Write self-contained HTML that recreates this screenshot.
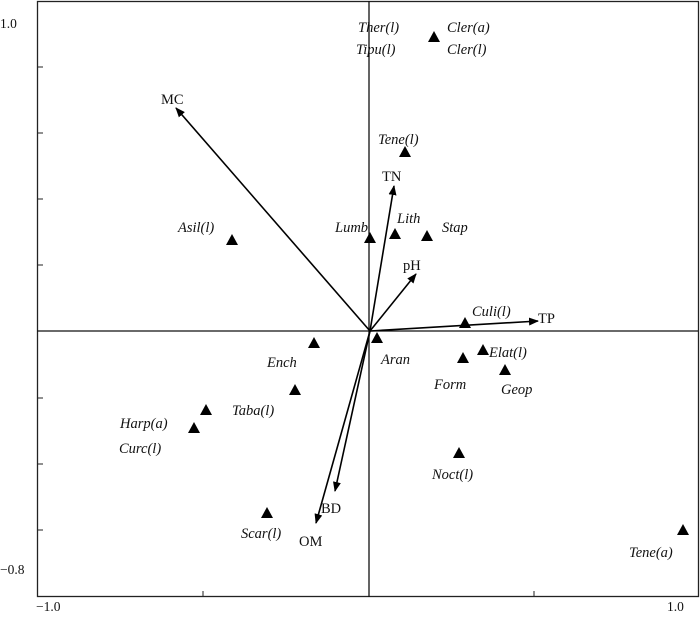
<!DOCTYPE html>
<html><head><style>body{margin:0;background:#fff}svg{display:block}</style></head><body>
<svg width="700" height="620" xmlns="http://www.w3.org/2000/svg" font-family="Liberation Serif, serif" font-size="14.5">
<defs><marker id="a" markerWidth="10" markerHeight="8" refX="9" refY="4" orient="auto" markerUnits="userSpaceOnUse"><path d="M0,0 L10,4 L0,8 Z" fill="#000"/></marker></defs>
<rect x="37.5" y="1.5" width="661" height="595" fill="none" stroke="#222" stroke-width="1.3"/>
<line x1="369" y1="1" x2="369" y2="597" stroke="#111" stroke-width="1.3"/>
<line x1="37" y1="331" x2="698" y2="331" stroke="#111" stroke-width="1.3"/>
<g stroke="#222" stroke-width="1">
<line x1="37" y1="67" x2="43" y2="67"/><line x1="37" y1="133" x2="43" y2="133"/><line x1="37" y1="199" x2="43" y2="199"/><line x1="37" y1="265" x2="43" y2="265"/>
<line x1="37" y1="398" x2="43" y2="398"/><line x1="37" y1="464" x2="43" y2="464"/><line x1="37" y1="530" x2="43" y2="530"/>
<line x1="203" y1="591" x2="203" y2="597"/><line x1="534" y1="591" x2="534" y2="597"/>
</g>
<g font-size="13.5" fill="#111">
<text x="0" y="28">1.0</text><text x="0" y="574">−0.8</text><text x="36" y="611">−1.0</text><text x="667" y="611">1.0</text>
</g>
<g stroke="#000" stroke-width="1.6" marker-end="url(#a)">
<line x1="370" y1="331" x2="176" y2="108"/>
<line x1="370" y1="331" x2="394" y2="186"/>
<line x1="370" y1="331" x2="416" y2="274"/>
<line x1="370" y1="331" x2="538" y2="321"/>
<line x1="370" y1="331" x2="335" y2="491"/>
<line x1="370" y1="331" x2="316" y2="523"/>
</g>
<g fill="#000">
<path d="M0,-6 L6,5 L-6,5 Z" transform="translate(434,37)"/>
<path d="M0,-6 L6,5 L-6,5 Z" transform="translate(405,152)"/>
<path d="M0,-6 L6,5 L-6,5 Z" transform="translate(370,238)"/>
<path d="M0,-6 L6,5 L-6,5 Z" transform="translate(395,234)"/>
<path d="M0,-6 L6,5 L-6,5 Z" transform="translate(427,236)"/>
<path d="M0,-6 L6,5 L-6,5 Z" transform="translate(232,240)"/>
<path d="M0,-6 L6,5 L-6,5 Z" transform="translate(465,323)"/>
<path d="M0,-6 L6,5 L-6,5 Z" transform="translate(377,338)"/>
<path d="M0,-6 L6,5 L-6,5 Z" transform="translate(314,343)"/>
<path d="M0,-6 L6,5 L-6,5 Z" transform="translate(463,358)"/>
<path d="M0,-6 L6,5 L-6,5 Z" transform="translate(483,350)"/>
<path d="M0,-6 L6,5 L-6,5 Z" transform="translate(505,370)"/>
<path d="M0,-6 L6,5 L-6,5 Z" transform="translate(295,390)"/>
<path d="M0,-6 L6,5 L-6,5 Z" transform="translate(206,410)"/>
<path d="M0,-6 L6,5 L-6,5 Z" transform="translate(194,428)"/>
<path d="M0,-6 L6,5 L-6,5 Z" transform="translate(459,453)"/>
<path d="M0,-6 L6,5 L-6,5 Z" transform="translate(267,513)"/>
<path d="M0,-6 L6,5 L-6,5 Z" transform="translate(683,530)"/>
</g>
<g fill="#111">
<text x="161" y="104">MC</text><text x="382" y="181">TN</text><text x="403" y="270">pH</text><text x="538" y="323">TP</text>
<text x="321" y="513">BD</text><text x="299" y="546">OM</text>
</g>
<g fill="#111" font-style="italic">
<text x="358" y="32">Ther(l)</text><text x="356" y="54">Tipu(l)</text>
<text x="447" y="32">Cler(a)</text><text x="447" y="54">Cler(l)</text>
<text x="378" y="144">Tene(l)</text><text x="397" y="223">Lith</text>
<text x="335" y="232">Lumb</text><text x="442" y="232">Stap</text><text x="178" y="232">Asil(l)</text>
<text x="472" y="316">Culi(l)</text><text x="381" y="364">Aran</text><text x="267" y="367">Ench</text>
<text x="434" y="389">Form</text><text x="489" y="357">Elat(l)</text><text x="501" y="394">Geop</text>
<text x="232" y="415">Taba(l)</text><text x="120" y="428">Harp(a)</text><text x="119" y="453">Curc(l)</text>
<text x="432" y="479">Noct(l)</text><text x="241" y="538">Scar(l)</text><text x="629" y="557">Tene(a)</text>
</g>
</svg>
</body></html>
